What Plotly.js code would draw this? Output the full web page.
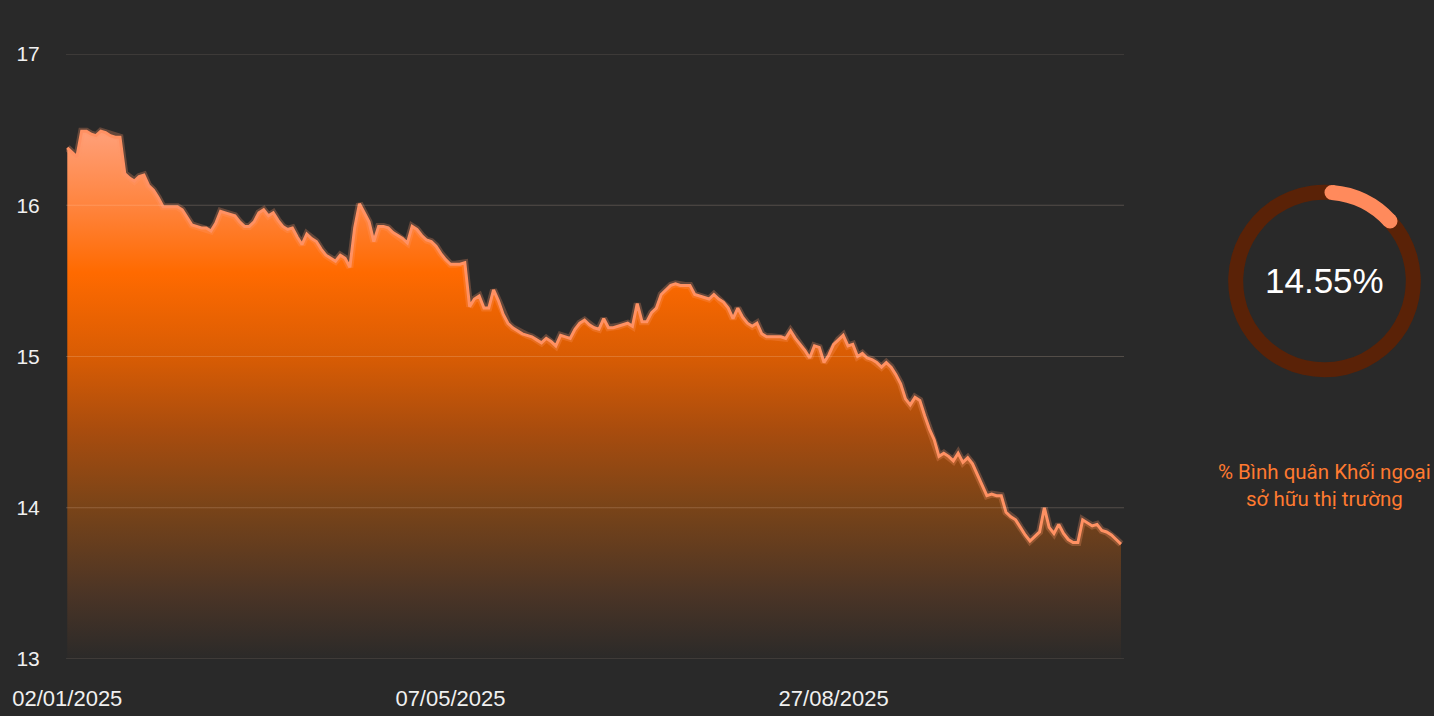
<!DOCTYPE html>
<html>
<head>
<meta charset="utf-8">
<script src="https://cdn.plot.ly/plotly-3.0.1.min.js"></script>
<style>
html,body{margin:0;padding:0;background:#292929;}
#chart{width:1434px;height:716px;}
</style>
</head>
<body>
<div id="chart"></div>
<script>
// ---- data ----
const ownershipValues = [
16.38,16.35,16.32,16.49,16.49,16.47,16.46,16.49,16.48,16.46,
16.45,16.45,16.21,16.18,16.16,16.19,16.20,16.13,16.10,16.05,
15.99,15.99,15.99,15.99,15.97,15.92,15.87,15.86,15.85,15.85,
15.83,15.88,15.96,15.95,15.94,15.93,15.89,15.86,15.86,15.89,
15.95,15.97,15.93,15.95,15.90,15.86,15.84,15.85,15.79,15.74,
15.81,15.78,15.76,15.71,15.67,15.65,15.63,15.67,15.65,15.59,
15.85,16.01,15.95,15.89,15.76,15.86,15.86,15.85,15.82,15.80,
15.78,15.75,15.86,15.84,15.80,15.77,15.76,15.73,15.68,15.64,
15.61,15.61,15.61,15.62,15.33,15.38,15.40,15.32,15.32,15.44,
15.37,15.28,15.22,15.19,15.17,15.15,15.14,15.13,15.11,15.09,
15.12,15.10,15.07,15.14,15.13,15.12,15.18,15.22,15.24,15.21,
15.19,15.18,15.25,15.19,15.19,15.20,15.21,15.22,15.20,15.35,
15.23,15.23,15.29,15.32,15.41,15.44,15.47,15.48,15.47,15.47,
15.47,15.41,15.40,15.39,15.38,15.41,15.38,15.36,15.32,15.25,
15.32,15.26,15.22,15.20,15.22,15.15,15.13,15.13,15.13,15.13,
15.12,15.17,15.12,15.08,15.04,14.99,15.07,15.06,14.96,15.01,
15.08,15.11,15.14,15.07,15.08,15.00,15.02,14.99,14.98,14.96,
14.93,14.96,14.93,14.88,14.82,14.72,14.68,14.73,14.71,14.61,
14.52,14.45,14.34,14.36,14.34,14.31,14.36,14.30,14.33,14.29,
14.22,14.16,14.08,14.09,14.08,14.08,13.97,13.94,13.92,13.87,
13.82,13.78,13.81,13.84,14.00,13.87,13.83,13.89,13.83,13.79,
13.77,13.77,13.92,13.90,13.88,13.89,13.85,13.84,13.82,13.79,
13.76
];
const startDate = '2025-01-02';
const marketHolidays = ['2025-01-01','2025-01-27','2025-01-28','2025-01-29','2025-01-30','2025-01-31',
  '2025-04-07','2025-04-30','2025-05-01','2025-05-02','2025-09-01','2025-09-02'];
const xTickLabels = ['02/01/2025','07/05/2025','27/08/2025'];
const yTickValues = [13,14,15,16,17];
const averageOwnership = 14.55;
const centerLabel = '14.55%';
const captionText = '% Bình quân Khối ngoại<br>sở hữu thị trường';

// trading-day categories (weekdays minus market holidays)
function pad(n){return (n<10?'0':'')+n;}
const tradingDates = [];
{
  const d = new Date(startDate + 'T00:00:00Z');
  while (tradingDates.length < ownershipValues.length) {
    const iso = d.toISOString().slice(0,10);
    const wd = d.getUTCDay();
    if (wd !== 0 && wd !== 6 && marketHolidays.indexOf(iso) < 0) {
      tradingDates.push(pad(d.getUTCDate()) + '/' + pad(d.getUTCMonth()+1) + '/' + d.getUTCFullYear());
    }
    d.setUTCDate(d.getUTCDate()+1);
  }
}

// ---- layout geometry ----
const W = 1434, H = 716;
const plotL = 66, plotR = 1124, plotT = 54, plotB = 659;
const donutCx = 1324.5, donutCy = 281, donutR = 96.3, ringW = 15;
const fontMain = 'Liberation Sans, Arial, sans-serif';

// round caps sit inside the gauge's angular span
const capR = ringW / 2, midR = donutR - ringW / 2;
const capDeg = Math.atan(capR / midR) * 180 / Math.PI;
const capPct = capDeg / 360 * 100;

const fillTrace = {
  x: tradingDates, y: ownershipValues, type: 'scatter', mode: 'lines',
  line: {width: 0, color: 'rgba(0,0,0,0)'},
  fill: 'tozeroy',
  fillgradient: {
    type: 'vertical', start: 13, stop: 16.5,
    colorscale: [
      [0.00, 'rgba(43,42,41,1)'],
      [0.12, '#4a3426'],
      [0.29, '#7a4418'],
      [0.43, '#a84c0e'],
      [0.57, '#d85c04'],
      [0.73, '#ff6a00'],
      [0.86, '#ff8540'],
      [1.00, '#ffa07a']
    ]
  },
  hoverinfo: 'skip', showlegend: false
};
const glowTrace = {
  x: tradingDates, y: ownershipValues, type: 'scatter', mode: 'lines',
  line: {width: 7, color: 'rgba(255,150,105,0.28)'},
  hoverinfo: 'skip', showlegend: false
};
const lineTrace = {
  x: tradingDates, y: ownershipValues, type: 'scatter', mode: 'lines',
  line: {width: 3, color: '#ff9163'},
  showlegend: false
};
const donut = {
  type: 'pie', values: [averageOwnership - 2 * capPct, 100 - averageOwnership + 2 * capPct],
  marker: {colors: ['#ff8a5c', '#5a2207'], line: {width: 0}},
  hole: (donutR - ringW) / donutR, sort: false, direction: 'clockwise', rotation: capDeg,
  textinfo: 'none', hoverinfo: 'skip', showlegend: false,
  domain: {x: [(donutCx - donutR) / W, (donutCx + donutR) / W],
           y: [1 - (donutCy + donutR) / H, 1 - (donutCy - donutR) / H]}
};

const shapes = yTickValues.map(v => ({
  type: 'line', xref: 'paper', yref: 'y', x0: plotL / W, x1: plotR / W, y0: v, y1: v,
  layer: 'above', line: {color: 'rgba(255,225,200,0.2)', width: 1}
}));
// rounded caps of the gauge arc
[capDeg, averageOwnership / 100 * 360 - capDeg].forEach(deg => {
  const a = deg * Math.PI / 180;
  const cx = donutCx + midR * Math.sin(a), cy = donutCy - midR * Math.cos(a);
  shapes.push({type: 'circle', xref: 'paper', yref: 'paper', layer: 'above',
    x0: (cx - capR) / W, x1: (cx + capR) / W, y0: 1 - (cy + capR) / H, y1: 1 - (cy - capR) / H,
    fillcolor: '#ff8a5c', line: {width: 0}});
});

const layout = {
  width: W, height: H, autosize: false,
  margin: {l: 0, r: 0, t: 0, b: 0, pad: 0},
  paper_bgcolor: '#292929', plot_bgcolor: 'rgba(0,0,0,0)',
  font: {family: fontMain, color: '#eeeeee'},
  xaxis: {
    type: 'category', domain: [plotL / W, plotR / W], range: [-0.27, ownershipValues.length - 1 + 0.63],
    tickmode: 'array', tickvals: xTickLabels, ticktext: xTickLabels,
    showgrid: false, zeroline: false, showline: false,
    ticks: 'outside', ticklen: 20, tickcolor: 'rgba(0,0,0,0)',
    tickfont: {size: 22, color: '#f0f0f0', family: fontMain}, automargin: false
  },
  yaxis: {
    domain: [1 - plotB / H, 1 - plotT / H], range: [13, 17],
    tickmode: 'array', tickvals: yTickValues,
    showgrid: false, zeroline: false, showline: false,
    ticks: 'outside', ticklen: 21, tickcolor: 'rgba(0,0,0,0)',
    tickfont: {size: 21, color: '#f0f0f0', family: fontMain}, automargin: false
  },
  shapes: shapes,
  annotations: [
    {xref: 'paper', yref: 'paper', x: donutCx / W, y: 1 - donutCy / H, xanchor: 'center', yanchor: 'middle',
     text: centerLabel, showarrow: false, font: {size: 35, color: '#ffffff', family: fontMain}},
    {xref: 'paper', yref: 'paper', x: 1324 / W, y: 1 - 485 / H, xanchor: 'center', yanchor: 'middle',
     text: captionText, showarrow: false, align: 'center',
     font: {size: 20.5, color: '#ff7a30', family: 'Roboto, sans-serif'}}
  ]
};

Plotly.newPlot('chart', [fillTrace, glowTrace, lineTrace, donut], layout, {staticPlot: true, displayModeBar: false});
</script>
</body>
</html>
